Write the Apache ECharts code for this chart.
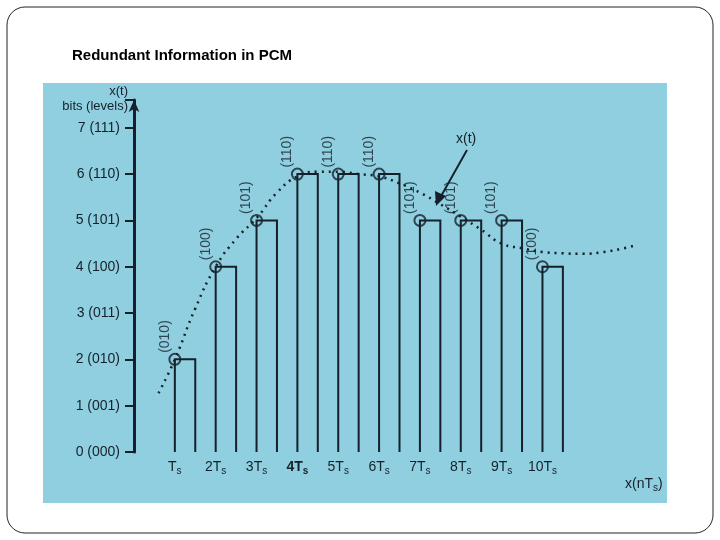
<!DOCTYPE html>
<html>
<head>
<meta charset="utf-8">
<script src="https://cdn.jsdelivr.net/npm/echarts@6/dist/echarts.min.js"></script>
<style>html,body{margin:0;padding:0;background:#fff}#chart1{width:720px;height:540px}</style>
</head>
<body>
<div id="chart1"></div>
<script>
// samples n (in Ts), quantized level, binary code
var sampleN = [1, 2, 3, 4, 5, 6, 7, 8, 9, 10]
var sampleLevel = [2, 4, 5, 6, 6, 6, 5, 5, 5, 4]
var sampleCode = ['(010)', '(100)', '(101)', '(110)', '(110)', '(110)', '(101)', '(101)', '(101)', '(100)']
// analog signal x(t)
var curveN = [0.6, 1, 1.5, 2, 2.5, 3, 3.5, 4, 4.5, 5, 5.5, 6, 6.5, 7, 7.5, 8, 8.5, 9, 9.5, 10, 10.5, 11, 11.5, 12, 12.3]
var curveLevel = [1.27, 2.0, 3.1, 4.0, 4.6, 5.05, 5.6, 5.95, 6.05, 6.05, 6.0, 5.95, 5.8, 5.6, 5.35, 5.08, 4.8, 4.5, 4.4, 4.32, 4.29, 4.28, 4.32, 4.4, 4.47]
var yTickLabels = ['0 (000)', '1 (001)', '2 (010)', '3 (011)', '4 (100)', '5 (101)', '6 (110)', '7 (111)']
var xTickLabels = ['', 'T{s|s}', '2T{s|s}', '3T{s|s}', '{b|4T}{bs|s}', '5T{s|s}', '6T{s|s}', '7T{s|s}', '8T{s|s}', '9T{s|s}', '10T{s|s}']

var ink = '#15202a'
var myChart = echarts.init(document.getElementById('chart1'))
var option = {
    animation: false,
    textStyle: { fontFamily: 'Liberation Sans, Arial, sans-serif' },
    graphic: [
        { type: 'rect', shape: { x: 7, y: 7, width: 706, height: 526, r: 18 }, style: { fill: '#fff', stroke: '#222', lineWidth: 1 }, z: -10 },
        { type: 'rect', shape: { x: 43, y: 83, width: 624, height: 420 }, style: { fill: '#8fcfdf' }, z: -9 },
        { type: 'text', left: 72, top: 48, style: { text: 'Redundant Information in PCM', font: 'bold 15px Liberation Sans, Arial', fill: '#000' } },
        { type: 'text', left: 456, top: 132, style: { text: 'x(t)', font: '14px Liberation Sans, Arial', fill: ink } },
        { type: 'line', shape: { x1: 467, y1: 150, x2: 440, y2: 198 }, style: { stroke: ink, lineWidth: 2 } },
        { type: 'polygon', shape: { points: [[436, 206], [435, 191], [446, 196]] }, style: { fill: ink } }
    ],
    grid: { left: 134, right: 55, top: 100, bottom: 88 },
    xAxis: {
        type: 'value', min: 0, max: 13, interval: 1,
        name: 'x(nT{s|s})', nameLocation: 'end', nameGap: -40,
        nameTextStyle: { color: ink, fontSize: 14, padding: [64, 0, 0, 0], rich: { s: { fontSize: 10, color: ink, padding: [8, 0, 0, 0] } } },
        axisLine: { show: false },
        axisTick: { show: false },
        splitLine: { show: false },
        axisLabel: {
            margin: 6, color: ink, fontSize: 14,
            formatter: function (v) { return xTickLabels[v] || '' },
            rich: {
                s: { fontSize: 10, color: ink, padding: [8, 0, 0, 0] },
                b: { fontSize: 14, fontWeight: 'bold', color: ink },
                bs: { fontSize: 10, fontWeight: 'bold', color: ink, padding: [8, 0, 0, 0] }
            }
        }
    },
    yAxis: {
        type: 'value', min: 0, max: 7.6, interval: 1,
        name: 'x(t)\nbits (levels)', nameLocation: 'end', nameGap: -14,
        nameTextStyle: { color: ink, fontSize: 13, align: 'right', lineHeight: 15, padding: [0, 6, 0, 0] },
        axisLine: { show: true, symbol: ['none', 'arrow'], symbolSize: [8, 12], lineStyle: { color: ink, width: 3 } },
        axisTick: { show: true, inside: false, length: 9, lineStyle: { color: ink, width: 2 } },
        splitLine: { show: false },
        axisLabel: {
            color: ink, fontSize: 14, margin: 14,
            formatter: function (v) { return yTickLabels[v] || '' }
        }
    },
    series: [
        {
            type: 'custom',
            renderItem: function (params, api) {
                var p0 = api.coord([api.value(0), 0])
                var p1 = api.coord([api.value(0) + 0.5, api.value(1)])
                return {
                    type: 'polyline',
                    shape: { points: [[p0[0], p0[1]], [p0[0], p1[1]], [p1[0], p1[1]], [p1[0], p0[1]]] },
                    style: { fill: null, stroke: ink, lineWidth: 2 }
                }
            },
            data: sampleN.map(function (n, i) { return [n, sampleLevel[i]] }),
            z: 2
        },
        {
            type: 'line',
            data: curveN.map(function (n, i) { return [n, curveLevel[i]] }),
            smooth: true, showSymbol: false,
            lineStyle: { color: ink, width: 2.5, type: [2, 5] },
            z: 3
        },
        {
            type: 'scatter',
            data: sampleN.map(function (n, i) { return [n, sampleLevel[i]] }),
            symbol: 'circle', symbolSize: 11,
            itemStyle: { color: 'rgba(0,0,0,0)', borderColor: ink, borderWidth: 2 },
            label: {
                show: true, position: 'top', rotate: 90, distance: 0, offset: [0, -10],
                align: 'left', verticalAlign: 'middle',
                color: ink, fontSize: 14,
                formatter: function (p) { return sampleCode[p.dataIndex] }
            },
            z: 4
        }
    ]
}
myChart.setOption(option)
</script>
</body>
</html>
